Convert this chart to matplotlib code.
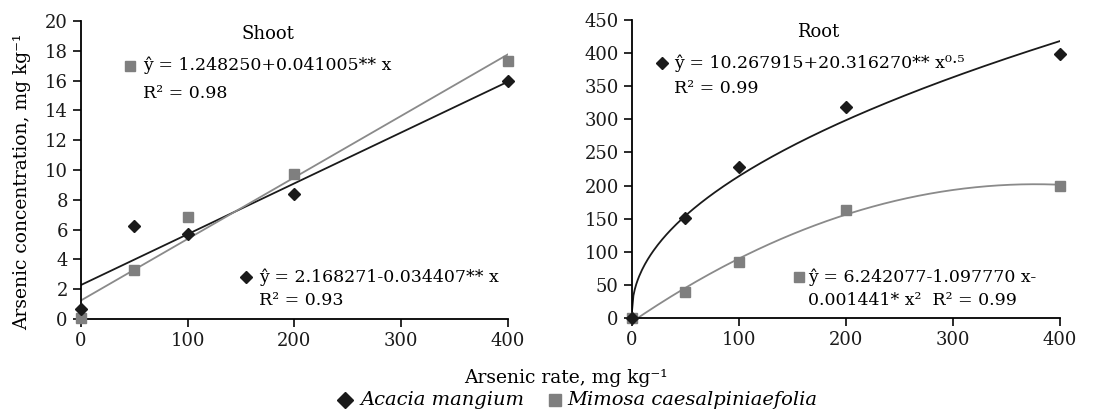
import numpy as np
import matplotlib
matplotlib.use("Agg")
import matplotlib.pyplot as plt

plt.rcParams['font.family'] = ['DejaVu Serif']

# dose (mg/kg) and measured values
rate = [0, 50, 100, 200, 400]
shoot_acacia = [0.65, 6.25, 5.7, 8.4, 16.0]
shoot_mimosa = [0.05, 3.3, 6.85, 9.7, 17.3]
root_acacia = [0, 151, 228, 318, 399]
root_mimosa = [0, 40, 84, 163, 200]

shoot_ticks = [0, 2, 4, 6, 8, 10, 12, 14, 16, 18, 20]
root_ticks = [0, 50, 100, 150, 200, 250, 300, 350, 400, 450]
x_ticks = [0, 100, 200, 300, 400]

eq_shoot_mim = ["ŷ = 1.248250+0.041005** x", "R² = 0.98"]
eq_shoot_aca = ["ŷ = 2.168271-0.034407** x", "R² = 0.93"]
eq_root_aca = ["ŷ = 10.267915+20.316270** x⁰·⁵", "R² = 0.99"]
eq_root_mim = ["ŷ = 6.242077-1.097770 x-", "0.001441* x²  R² = 0.99"]

black = '#1a1a1a'
gray = '#7f7f7f'
gline = '#8a8a8a'
fs = 12.5

x = np.array(rate, dtype=float)
xs = np.linspace(0, 400, 300)

fig = plt.figure(figsize=(11.15, 4.17), dpi=100)
ax1 = fig.add_axes([0.0726, 0.235, 0.383, 0.7146])
ax2 = fig.add_axes([0.5668, 0.2374, 0.3839, 0.7146])

for ax in (ax1, ax2):
    ax.spines['top'].set_visible(False)
    ax.spines['right'].set_visible(False)
    ax.spines['left'].set_linewidth(1.3)
    ax.spines['bottom'].set_linewidth(1.3)
    ax.tick_params(direction='out', length=6, width=1.3, labelsize=13, colors=black)
    ax.set_xlim(0, 400)
    ax.set_xticks(x_ticks)

# shoot - linear fits
pa = np.polyfit(x, shoot_acacia, 1)
pm = np.polyfit(x, shoot_mimosa, 1)
ax1.plot(xs, np.polyval(pa, xs), color=black, lw=1.3)
ax1.plot(xs, np.polyval(pm, xs), color=gline, lw=1.3)
ax1.plot(x, shoot_mimosa, 's', color=gray, ms=7, clip_on=False, zorder=5)
ax1.plot(x, shoot_acacia, 'D', color=black, ms=6, clip_on=False, zorder=6)
ax1.set_ylim(0, 20)
ax1.set_yticks(shoot_ticks)
ax1.text(0.438, 0.985, "Shoot", transform=ax1.transAxes, ha='center', va='top', fontsize=13)

# annotation positions in axes fraction
ax1.plot([0.115], [0.85], 's', color=gray, ms=7, transform=ax1.transAxes)
ax1.text(0.145, 0.85, eq_shoot_mim[0], transform=ax1.transAxes, va='center', fontsize=fs)
ax1.text(0.145, 0.757, eq_shoot_mim[1], transform=ax1.transAxes, va='center', fontsize=fs)
ax1.plot([0.387], [0.14], 'D', color=black, ms=6, transform=ax1.transAxes)
ax1.text(0.418, 0.14, eq_shoot_aca[0], transform=ax1.transAxes, va='center', fontsize=fs)
ax1.text(0.418, 0.062, eq_shoot_aca[1], transform=ax1.transAxes, va='center', fontsize=fs)

# root - sqrt fit and quadratic fit
A = np.vstack([np.ones_like(x), np.sqrt(x)]).T
ca = np.linalg.lstsq(A, np.array(root_acacia, dtype=float), rcond=None)[0]
pq = np.polyfit(x, root_mimosa, 2)
ax2.plot(xs, ca[0] + ca[1] * np.sqrt(xs), color=black, lw=1.3)
ax2.plot(xs, np.polyval(pq, xs), color=gline, lw=1.3)
ax2.plot(x, root_mimosa, 's', color=gray, ms=7, clip_on=False, zorder=5)
ax2.plot(x, root_acacia, 'D', color=black, ms=6, clip_on=False, zorder=6)
ax2.set_ylim(0, 450)
ax2.set_yticks(root_ticks)
ax2.text(0.435, 0.99, "Root", transform=ax2.transAxes, ha='center', va='top', fontsize=13)

ax2.plot([0.07], [0.855], 'D', color=black, ms=6, transform=ax2.transAxes)
ax2.text(0.098, 0.855, eq_root_aca[0], transform=ax2.transAxes, va='center', fontsize=fs)
ax2.text(0.098, 0.77, eq_root_aca[1], transform=ax2.transAxes, va='center', fontsize=fs)
ax2.plot([0.390], [0.137], 's', color=gray, ms=7, transform=ax2.transAxes)
ax2.text(0.411, 0.137, eq_root_mim[0], transform=ax2.transAxes, va='center', fontsize=fs)
ax2.text(0.411, 0.059, eq_root_mim[1], transform=ax2.transAxes, va='center', fontsize=fs)

fig.text(22 / 1115, 1 - 182 / 417, "Arsenic concentration, mg kg⁻¹", rotation=90,
         ha='center', va='center', fontsize=13.5)
fig.text(566 / 1115, 1 - 378 / 417, "Arsenic rate, mg kg⁻¹", ha='center', va='center', fontsize=13.5)

# legend
ly = 1 - 400 / 417
fig.lines.append(plt.Line2D([345 / 1115], [ly], marker='D', color=black, ms=8,
                            ls='none', transform=fig.transFigure))
fig.text(360 / 1115, ly, "Acacia mangium", style='italic', va='center', fontsize=14)
fig.lines.append(plt.Line2D([555 / 1115], [ly], marker='s', color=gray, ms=9,
                            ls='none', transform=fig.transFigure))
fig.text(567 / 1115, ly, "Mimosa caesalpiniaefolia", style='italic', va='center', fontsize=14)

fig.savefig("out.png", dpi=100)
